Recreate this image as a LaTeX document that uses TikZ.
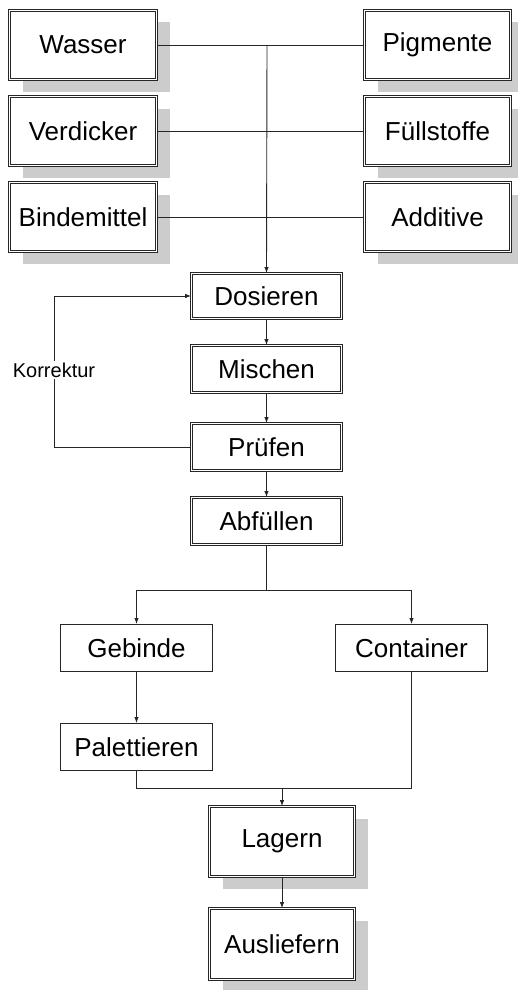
\documentclass[tikz,border=0pt]{standalone}
\usepackage{fontspec}
\setmainfont{Liberation Sans}
\usetikzlibrary{shadows,arrows.meta}
\begin{document}
\begin{tikzpicture}[x=1pt,y=-1pt,
  dbox/.style={draw=black!85, double=white, line width=0.8pt, double distance=1.4pt,
    fill=white, inner sep=0pt, font=\fontsize{26}{30}\selectfont},
  sbox/.style={dbox, drop shadow={shadow xshift=13pt, shadow yshift=-12pt, fill=black!20, opacity=1}},
  pbox/.style={draw=black!85, line width=1pt, fill=white, inner sep=0pt,
    font=\fontsize{26}{30}\selectfont, minimum width=152pt, minimum height=47pt},
  conn/.style={draw=black!85, line width=0.9pt},
  arr/.style={conn, -{Latex[length=6pt,width=4.5pt]}}
]
\useasboundingbox (0,0) rectangle (518,990);

% input boxes
\node[sbox, minimum width=147pt, minimum height=69pt] (wasser) at (83,45) {Wasser};
\node[sbox, minimum width=147pt, minimum height=69pt] (verd) at (83,131) {Verdicker};
\node[sbox, minimum width=147pt, minimum height=69pt] (binde) at (83,217) {Bindemittel};
\node[sbox, minimum width=146pt, minimum height=69pt] (pigm) at (437.5,45) {Pigmente};
\node[sbox, minimum width=146pt, minimum height=69pt] (fuell) at (437.5,131) {Füllstoffe};
\node[sbox, minimum width=146pt, minimum height=69pt] (addi) at (437.5,217) {Additive};

% process column
\node[dbox, minimum width=150pt, minimum height=45pt] (dos) at (266.5,296) {Dosieren};
\node[dbox, minimum width=150pt, minimum height=47pt] (misch) at (266.5,369) {Mischen};
\node[dbox, minimum width=150pt, minimum height=47pt] (pruef) at (266.5,447) {Prüfen};
\node[dbox, minimum width=150pt, minimum height=47pt] (abf) at (266.5,521) {Abfüllen};

% packaging
\node[pbox] (geb) at (136.5,648) {Gebinde};
\node[pbox] (cont) at (411.5,648) {Container};
\node[pbox] (pal) at (136.5,747) {Palettieren};

% storage
\node[sbox, minimum width=145pt, minimum height=70pt] (lag) at (282,841.5) {Lagern};
\node[sbox, minimum width=145pt, minimum height=71pt] (aus) at (282,944) {Ausliefern};

% connectors top
\coordinate (j1) at (267,45);
\draw[conn] (wasser.east) -- (pigm.west);
\draw[conn] (verd.east) -- (fuell.west);
\draw[conn] (binde.east) -- (addi.west);
\draw[arr] (j1) -- (dos.north);

\draw[arr] (dos) -- (misch);
\draw[arr] (misch) -- (pruef);
\draw[arr] (pruef) -- (abf);

% Korrektur loop
\coordinate (k1) at (54,447);
\coordinate (k2) at (54,296);
\draw[conn] (pruef.west) -- (k1) -- (k2);
\draw[arr] (k2) -- (dos.west);
\node[fill=white, inner sep=1.5pt, font=\fontsize{20}{24}\selectfont] (korr) at (54,370) {Korrektur};

% split
\coordinate (s0) at (266.5,590);
\coordinate (sl) at (136.5,590);
\coordinate (sr) at (411.5,590);
\draw[conn] (abf.south) -- (s0);
\draw[conn] (sl) -- (sr);
\draw[arr] (sl) -- (geb.north);
\draw[arr] (sr) -- (cont.north);
\draw[arr] (geb) -- (pal);

% merge
\coordinate (ml) at (136.5,788);
\coordinate (mr) at (411.5,788);
\coordinate (mm) at (282,788);
\draw[conn] (pal.south) -- (ml) -- (mr) -- (cont.south);
\draw[arr] (mm) -- (lag.north);
\draw[arr] (lag) -- (aus);
\end{tikzpicture}
\end{document}
